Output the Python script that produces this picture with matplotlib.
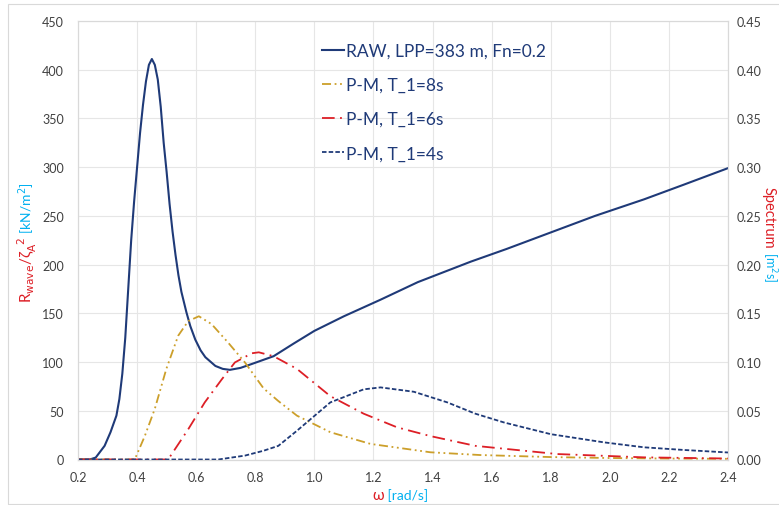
import matplotlib
matplotlib.use('Agg')
import matplotlib.pyplot as plt

plt.rcParams['font.family'] = ['Lato', 'DejaVu Sans']

# RAW added resistance (left axis, kN/m2)
w_raw = [0.20, 0.24, 0.26, 0.29, 0.31, 0.33, 0.34, 0.35, 0.36, 0.37, 0.38, 0.39, 0.40,
         0.41, 0.42, 0.43, 0.44, 0.45, 0.46, 0.47, 0.48, 0.49, 0.50, 0.51, 0.52, 0.53,
         0.54, 0.55, 0.567, 0.58, 0.597, 0.615, 0.631, 0.665, 0.69, 0.714, 0.75, 0.788,
         0.862, 0.93, 1.0, 1.1, 1.224, 1.35, 1.529, 1.65, 1.8, 1.95, 2.116, 2.25, 2.4]
r_raw = [0, 0, 2, 14, 28, 45, 62, 88, 125, 175, 225, 265, 300,
         335, 364, 388, 405, 411, 405, 390, 362, 325, 295, 262, 234, 210,
         189, 172, 151, 137, 123, 112, 105, 96, 93, 92, 94, 98,
         106, 119, 132, 147, 164, 182, 203, 216, 233, 250, 267, 282, 299]

# P-M spectra (right axis, m2s)
w_t8 = [0.20, 0.30, 0.392, 0.426, 0.46, 0.499, 0.539, 0.573, 0.609, 0.652, 0.708, 0.765,
        0.828, 0.878, 0.941, 1.054, 1.19, 1.393, 1.56, 1.8, 2.0, 2.2, 2.4]
s_t8 = [0, 0, 0, 0.024, 0.052, 0.093, 0.127, 0.142, 0.147, 0.139, 0.120, 0.0996,
        0.073, 0.060, 0.045, 0.028, 0.016, 0.0074, 0.0046, 0.0025, 0.0015, 0.001, 0.0007]

w_t6 = [0.20, 0.40, 0.505, 0.573, 0.629, 0.686, 0.731, 0.788, 0.812, 0.862, 0.941, 1.054,
        1.167, 1.28, 1.393, 1.545, 1.822, 2.116, 2.4]
s_t6 = [0, 0, 0, 0.031, 0.0586, 0.082, 0.0996, 0.109, 0.110, 0.106, 0.093, 0.065,
        0.047, 0.033, 0.024, 0.014, 0.0056, 0.0022, 0.001]

w_t4 = [0.20, 0.50, 0.675, 0.765, 0.828, 0.878, 0.941, 1.054, 1.167, 1.224, 1.337, 1.45,
        1.545, 1.642, 1.8, 1.98, 2.116, 2.25, 2.4]
s_t4 = [0, 0, 0, 0.004, 0.009, 0.014, 0.0295, 0.0586, 0.072, 0.074, 0.0695, 0.0586,
        0.047, 0.038, 0.026, 0.0176, 0.0125, 0.0098, 0.0072]

navy = '#1F3A78'
gold = '#CC9F2A'
red = '#DD1F26'
blue = '#00B0F0'
tick_col = '#404040'

fig = plt.figure(figsize=(7.79, 5.06), dpi=100)
ax = fig.add_axes([78/779, 1-460.5/506, 650/779, 438.5/506])
ax2 = ax.twinx()

l1, = ax.plot(w_raw, r_raw, color=navy, lw=1.5, label='RAW, LPP=383 m, Fn=0.2')
l2, = ax2.plot(w_t8, s_t8, color=gold, lw=1.3, dashes=(5, 2, 1, 2, 1, 2), label='P-M, T_1=8s')
l3, = ax2.plot(w_t6, s_t6, color=red, lw=1.3, dashes=(7, 3, 1, 3), label='P-M, T_1=6s')
l4, = ax2.plot(w_t4, s_t4, color=navy, lw=1.3, dashes=(2.5, 1.2), label='P-M, T_1=4s')

ax.set_xlim(0.2, 2.4)
ax.set_ylim(0, 450)
ax2.set_ylim(0, 0.45)
ax.set_xticks([0.2 + 0.2*i for i in range(12)])
ax.set_xticklabels(['%.1f' % (0.2 + 0.2*i) for i in range(12)])
ax.set_yticks(range(0, 451, 50))
ax2.set_yticks([0.05*i for i in range(10)])
ax2.set_yticklabels(['%.2f' % (0.05*i) for i in range(10)])

ax.grid(True, color='#E6E6E6', lw=0.8)
ax.set_axisbelow(True)
for a in (ax, ax2):
    a.tick_params(length=0, labelsize=9, colors=tick_col)
    for s in a.spines.values():
        s.set_color('#D9D9D9')
        s.set_linewidth(0.8)
ax.tick_params(axis='x', pad=8)
ax.tick_params(axis='y', pad=10)
ax2.tick_params(axis='y', pad=6)
ax.spines['bottom'].set_color('#BFBFBF')

leg = ax2.legend(handles=[l1, l2, l3, l4], loc='upper left', frameon=False,
                 bbox_to_anchor=(306/779, 1-28/506), bbox_transform=fig.transFigure,
                 fontsize=12.5, handlelength=1.3, handletextpad=0.1, labelspacing=1.05)
for t in leg.get_texts():
    t.set_color(navy)

# axis titles in two colours
tl = fig.text(27/779, 1-303/506, r'R$_{\mathrm{wave}}$/ζ$_{\mathrm{A}}^{\ \ 2}$', color=red,
              rotation=90, ha='center', va='bottom', fontsize=11)
ax.annotate(' [kN/m$^2$]', xy=(0.5, 1), xycoords=tl, color=blue, rotation=90,
            ha='center', va='bottom', fontsize=10)

tr = fig.text(769/779, 1-187/506, 'Spectrum', color=red, rotation=270,
              ha='center', va='top', fontsize=10.5)
ax.annotate(' [m$^2$s]', xy=(0.5, 0), xycoords=tr, color=blue, rotation=270,
            ha='center', va='top', fontsize=9)

tx = fig.text(372/779, 1-496/506, 'ω', color=red, ha='left', va='center', fontsize=11)
ax.annotate(' [rad/s]', xy=(1, 0.5), xycoords=tx, color=blue, ha='left', va='center',
            fontsize=10)

# chart border
fig.patches.append(plt.Rectangle((8/779, 0.002), 1, 1-5/506-0.002, transform=fig.transFigure,
                                 fill=False, edgecolor='#D9D9D9', lw=0.8))

fig.savefig('out.png', dpi=100)
